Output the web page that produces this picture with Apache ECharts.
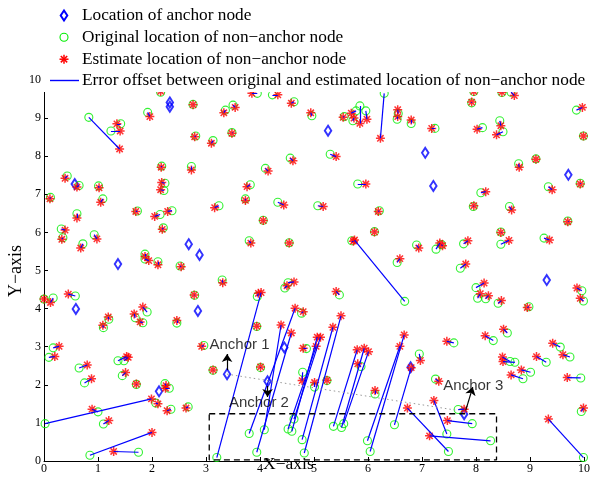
<!DOCTYPE html>
<html>
<head>
<meta charset="utf-8">
<script src="https://cdn.jsdelivr.net/npm/echarts@6/dist/echarts.min.js"></script>
<style>
  html, body { margin: 0; padding: 0; background: #fff; }
  #chart { width: 593px; height: 477px; }
</style>
</head>
<body>
<div id="chart"></div>
<script>
// ---- Data ----
const anchorX = [2.33, 2.33, 5.26, 7.06, 0.57, 7.21, 9.71, 2.68, 2.88, 1.37, 9.31, 0.59, 2.85, 4.45, 3.39, 4.14, 6.79, 2.13, 7.78];
const anchorY = [9.41, 9.30, 8.67, 8.09, 7.27, 7.22, 7.51, 5.69, 5.41, 5.17, 4.75, 3.99, 3.94, 2.98, 2.28, 2.09, 2.46, 1.83, 1.23];

const origX = [
  0.83, 1.42, 1.24, 1.92, 2.16, 2.76, 2.81, 0.43, 0.65, 1.01, 2.18, 2.73, 2.24, 2.22, 0.12, 1.09, 1.73, 2.37, 2.15, 0.61,
  0.32, 2.21, 0.35, 0.93, 0.72, 1.87, 1.87, 2.11, 2.52, 0.00, 0.17, 0.58, 2.79, 1.20, 1.10, 1.69, 1.91, 1.83, 2.46, 0.17,
  0.09, 1.37, 1.48, 1.45, 0.65, 0.75, 1.71, 2.24, 2.32, 0.02, 2.07, 1.00, 2.35, 2.67, 1.10, 0.85, 1.75, 3.30, 4.46, 4.52,
  3.20, 3.95, 2.96, 3.94, 3.13, 4.01, 3.80, 4.77, 4.08, 3.94, 4.79, 5.01, 5.24, 4.86, 5.87, 6.13, 4.52, 4.59, 4.63, 4.78,
  4.82, 5.36, 5.51, 5.55, 5.99, 6.04, 6.49, 5.47, 6.68, 5.70, 7.49, 7.46, 8.27, 7.93, 7.67, 9.99, 9.95, 8.09, 7.95, 8.62,
  9.34, 9.93, 9.70, 8.46, 8.46, 9.26, 6.90, 7.26, 7.36, 7.77, 6.54, 7.71, 8.00, 8.03, 8.18, 8.41, 8.98, 9.96, 9.99, 8.58,
  8.32, 7.59, 6.95, 7.25, 8.63, 8.72, 9.30, 9.56, 9.74, 9.01, 8.87, 9.94, 3.82, 5.81, 3.73, 3.24, 4.33, 5.07, 6.21, 4.06,
  6.12, 3.80, 4.54, 3.95, 4.23, 4.63, 3.36, 3.50, 4.96, 5.56, 5.85, 5.96, 5.78, 5.72, 6.30, 3.48, 3.13, 4.56, 5.30, 4.10,
  6.56, 6.54, 6.80, 7.24, 8.12, 8.44, 8.50, 7.92, 8.65, 9.86, 9.99, 9.11, 8.79, 8.48, 7.96
];
const origY = [
  9.02, 8.85, 8.66, 9.15, 9.68, 9.36, 8.53, 7.48, 7.23, 7.22, 7.74, 7.73, 7.29, 7.10, 6.92, 6.88, 6.56, 6.57, 6.47, 6.49,
  6.09, 6.12, 5.86, 5.94, 5.70, 5.43, 5.30, 5.23, 5.12, 4.25, 4.28, 4.33, 4.35, 3.72, 3.50, 3.76, 3.91, 3.63, 3.62, 2.97,
  2.72, 2.63, 2.63, 2.24, 2.44, 2.05, 2.01, 2.03, 1.91, 0.98, 1.52, 1.29, 1.36, 1.42, 0.97, 0.15, 0.23, 4.75, 4.54, 4.68,
  0.09, 4.32, 3.03, 3.53, 2.38, 2.45, 0.72, 3.88, 0.82, 0.23, 2.33, 1.94, 2.11, 2.95, 2.48, 1.76, 0.84, 0.78, 1.10, 0.56,
  0.21, 0.91, 0.88, 0.98, 0.53, 0.25, 0.95, 4.36, 4.19, 5.78, 0.25, 0.71, 0.53, 0.98, 1.35, 0.09, 1.30, 7.04, 6.68, 6.68,
  7.20, 7.29, 6.30, 6.01, 5.69, 5.85, 5.67, 5.56, 5.68, 5.70, 5.21, 5.06, 4.55, 4.27, 4.26, 4.14, 4.05, 4.47, 4.20, 3.36,
  3.16, 3.10, 2.81, 2.15, 2.61, 2.59, 2.59, 2.99, 2.73, 2.33, 2.16, 2.18, 7.25, 7.27, 6.88, 6.70, 6.79, 6.70, 6.57, 6.32,
  6.02, 5.78, 5.73, 9.65, 9.61, 9.43, 9.21, 9.34, 9.06, 9.04, 9.32, 9.19, 9.19, 8.93, 9.65, 8.62, 8.41, 7.95, 8.05, 7.68,
  9.12, 8.97, 8.86, 8.73, 8.75, 8.93, 8.64, 9.40, 9.68, 9.21, 8.53, 7.93, 7.80, 9.67, 9.70
];
const estX = [
  1.40, 1.35, 1.41, 1.96, 2.16, 2.76, 2.79, 0.39, 0.61, 1.02, 2.17, 2.73, 2.18, 2.16, 0.11, 1.05, 1.70, 2.29, 2.05, 0.61,
  0.39, 2.19, 0.33, 0.98, 0.68, 1.87, 1.94, 2.11, 2.54, 0.00, 0.12, 0.45, 2.78, 1.19, 1.09, 1.67, 1.83, 1.78, 2.46, 0.28,
  0.20, 1.53, 1.56, 1.51, 0.80, 0.88, 1.71, 2.26, 2.25, 1.99, 2.11, 0.89, 2.28, 2.63, 1.20, 2.00, 1.29, 3.31, 4.50, 4.63,
  4.02, 3.97, 2.92, 3.94, 3.13, 4.01, 4.65, 4.80, 4.39, 4.58, 4.78, 5.01, 5.24, 4.80, 5.81, 6.13, 5.04, 5.06, 5.12, 5.35,
  5.50, 5.80, 5.93, 6.01, 6.59, 6.67, 6.80, 5.41, 5.75, 5.73, 6.73, 7.22, 7.14, 7.47, 7.78, 9.34, 9.99, 8.18, 7.96, 8.66,
  9.41, 9.93, 9.70, 8.46, 8.61, 9.36, 6.94, 7.33, 7.38, 7.85, 6.59, 7.81, 8.15, 8.08, 8.23, 8.47, 8.95, 9.87, 9.93, 8.51,
  8.17, 7.46, 6.97, 7.31, 8.49, 8.50, 9.12, 9.42, 9.61, 8.84, 8.65, 9.69, 3.76, 5.96, 3.73, 3.16, 4.44, 5.17, 6.19, 4.06,
  6.12, 3.83, 4.54, 3.85, 4.33, 4.58, 3.33, 3.54, 4.94, 5.54, 5.85, 5.98, 5.69, 5.74, 6.23, 3.48, 3.10, 4.61, 5.41, 4.15,
  6.55, 6.55, 6.80, 7.18, 8.02, 8.46, 8.38, 7.92, 8.71, 9.97, 9.99, 9.11, 8.80, 8.48, 7.96
];
const estY = [
  8.19, 8.85, 8.66, 9.04, 9.70, 9.35, 8.51, 7.42, 7.19, 7.17, 7.71, 7.64, 7.31, 7.12, 6.88, 6.79, 6.55, 6.55, 6.42, 6.38,
  6.06, 6.08, 5.82, 5.83, 5.59, 5.37, 5.26, 5.15, 5.10, 4.25, 4.16, 4.38, 4.36, 3.78, 3.56, 3.86, 4.04, 3.65, 3.69, 3.01,
  2.74, 2.74, 2.72, 2.32, 2.52, 2.16, 2.02, 1.98, 1.91, 1.63, 1.50, 1.36, 1.32, 1.39, 1.06, 0.75, 0.25, 4.68, 4.60, 4.70,
  4.42, 4.40, 3.01, 3.54, 2.39, 2.47, 4.01, 3.92, 3.57, 3.36, 2.11, 2.06, 2.12, 2.96, 2.55, 1.85, 3.01, 3.25, 3.25, 3.51,
  3.81, 2.92, 2.96, 2.87, 3.01, 3.31, 2.45, 4.45, 5.80, 5.77, 1.39, 1.59, 0.66, 1.06, 1.36, 1.10, 1.39, 7.07, 6.70, 6.59,
  7.12, 7.27, 6.28, 6.00, 5.79, 5.80, 5.59, 5.72, 5.65, 5.78, 5.31, 5.17, 4.67, 4.39, 4.34, 4.21, 4.03, 4.54, 4.27, 3.46,
  3.29, 3.14, 2.64, 2.09, 2.73, 2.61, 2.74, 3.09, 2.79, 2.39, 2.26, 2.19, 7.20, 7.27, 6.84, 6.65, 6.72, 6.68, 6.55, 6.31,
  6.01, 5.72, 5.72, 9.65, 9.61, 9.39, 9.14, 9.28, 9.14, 9.02, 8.86, 8.97, 9.13, 9.00, 8.47, 8.60, 8.34, 7.88, 7.99, 7.61,
  9.22, 9.04, 8.95, 8.73, 8.71, 8.80, 8.56, 9.42, 9.59, 9.28, 8.53, 7.92, 7.71, 9.68, 9.70
];

// monitored region (dashed box) and the dotted guide line
const boxX = [3.06, 8.38, 8.38, 3.06, 3.06];
const boxY = [1.24, 1.24, 0.03, 0.03, 1.24];
const guideX = [3.39, 7.65];
const guideY = [2.28, 1.33];

// annotations
const annoText = ['Anchor 1', 'Anchor 2', 'Anchor 3'];
const annoX = [3.62, 3.98, 7.95];
const annoY = [3.05, 1.52, 1.96];
const arrowFromX = [3.39, 4.14, 7.81];
const arrowFromY = [2.39, 1.97, 1.33];
const arrowToX = [3.39, 4.14, 7.94];
const arrowToY = [2.81, 1.68, 1.94];

const legendText = [
  'Location of anchor node',
  'Original location of non\u2212anchor node',
  'Estimate location of non\u2212anchor node',
  'Error offset between original and estimated location of non\u2212anchor node'
];

// ---- Build ----
const SERIF = '"Liberation Serif", "DejaVu Serif", serif';
const SANS = '"Liberation Sans", Arial, sans-serif';
const STAR = 'path://M5,0L5,10M0,5L10,5M1.5,1.5L8.5,8.5M8.5,1.5L1.5,8.5';

const anchors = anchorX.map((x, i) => [x, anchorY[i]]);
const origPts = origX.map((x, i) => [x, origY[i]]);
const estPts = estX.map((x, i) => [x, estY[i]]);
const errLines = origX.map((x, i) => ({ coords: [[x, origY[i]], [estX[i], estY[i]]] }));
const box = boxX.map((x, i) => [x, boxY[i]]);
const guide = guideX.map((x, i) => [x, guideY[i]]);
const arrows = arrowFromX.map((x, i) => ({ coords: [[x, arrowFromY[i]], [arrowToX[i], arrowToY[i]]] }));
const annos = annoX.map((x, i) => ({ value: [x, annoY[i]], name: annoText[i] }));

// legend drawn as graphics (covers top of plot like the original opaque legend box)
const LX = 64, TX = 82, LY = [15.5, 37.3, 59.2, 80.5];
const legendEls = [
  { type: 'rect', shape: { x: 43, y: 0, width: 550, height: 92 }, style: { fill: '#fff' }, z: 100, silent: true },
  { type: 'polygon', shape: { points: [[LX, LY[0] - 5], [LX + 3.3, LY[0]], [LX, LY[0] + 5], [LX - 3.3, LY[0]]] },
    style: { fill: 'none', stroke: '#0000ff', lineWidth: 2 }, z: 101, silent: true },
  { type: 'circle', shape: { cx: LX, cy: LY[1], r: 4 }, style: { fill: 'none', stroke: '#00ee00', lineWidth: 1.1 }, z: 101, silent: true },
  { type: 'line', shape: { x1: LX - 4.5, y1: LY[2], x2: LX + 4.5, y2: LY[2] }, style: { stroke: '#ff0000', lineWidth: 1.5 }, z: 101, silent: true },
  { type: 'line', shape: { x1: LX, y1: LY[2] - 4.5, x2: LX, y2: LY[2] + 4.5 }, style: { stroke: '#ff0000', lineWidth: 1.5 }, z: 101, silent: true },
  { type: 'line', shape: { x1: LX - 3.2, y1: LY[2] - 3.2, x2: LX + 3.2, y2: LY[2] + 3.2 }, style: { stroke: '#ff0000', lineWidth: 1.5 }, z: 101, silent: true },
  { type: 'line', shape: { x1: LX + 3.2, y1: LY[2] - 3.2, x2: LX - 3.2, y2: LY[2] + 3.2 }, style: { stroke: '#ff0000', lineWidth: 1.5 }, z: 101, silent: true },
  { type: 'line', shape: { x1: 50, y1: LY[3], x2: 79, y2: LY[3] }, style: { stroke: '#0000ff', lineWidth: 1.4 }, z: 101, silent: true }
];
legendText.forEach((t, i) => {
  legendEls.push({ type: 'text', x: TX, y: LY[i], z: 102, silent: true,
    style: { text: t, fill: '#000', fontSize: 17.3, fontFamily: SERIF, align: 'left', verticalAlign: 'middle' } });
});
// axis titles
legendEls.push({ type: 'text', x: 263, y: 464.5, z: 50, silent: true,
  style: { text: 'X\u2212axis', fill: '#000', fontSize: 17.5, fontFamily: SERIF, align: 'left', verticalAlign: 'middle' } });
legendEls.push({ type: 'text', x: 16, y: 271, rotation: Math.PI / 2, z: 50, silent: true,
  style: { text: 'Y\u2212axis', fill: '#000', fontSize: 18, fontFamily: SERIF, align: 'center', verticalAlign: 'middle' } });

const axisCommon = {
  type: 'value', min: 0, max: 10, interval: 1,
  axisLine: { show: true, onZero: false, lineStyle: { color: '#000', width: 1 } },
  axisTick: { show: true, inside: true, length: 4, lineStyle: { color: '#000', width: 1 } },
  splitLine: { show: false },
  axisLabel: { color: '#000', fontSize: 12, fontFamily: SERIF }
};

const chart = echarts.init(document.getElementById('chart'), null, { renderer: 'canvas' });
chart.setOption({
  animation: false,
  backgroundColor: '#fff',
  grid: { left: 44, right: 5, top: 80, bottom: 16, containLabel: false },
  xAxis: Object.assign({}, axisCommon, { axisLabel: Object.assign({}, axisCommon.axisLabel, { margin: 2 }) }),
  yAxis: Object.assign({}, axisCommon, { axisLabel: Object.assign({}, axisCommon.axisLabel, { margin: 3 }) }),
  graphic: { elements: legendEls },
  series: [
    {
      name: 'Location of anchor node', type: 'scatter', data: anchors, symbol: 'diamond', symbolSize: [6.5, 10],
      itemStyle: { color: 'none', borderColor: '#0000ff', borderWidth: 2 }, z: 3, clip: false
    },
    {
      name: 'Original location of non-anchor node', type: 'scatter', data: origPts, symbol: 'circle', symbolSize: 8,
      itemStyle: { color: 'none', borderColor: '#00ee00', borderWidth: 1.1 }, z: 4, clip: false
    },
    {
      name: 'Estimate location of non-anchor node', type: 'scatter', data: estPts, symbol: STAR, symbolSize: 9,
      itemStyle: { color: 'none', borderColor: '#ff0000', borderWidth: 1.5 }, z: 5, clip: false
    },
    {
      name: 'Error offset', type: 'lines', coordinateSystem: 'cartesian2d', data: errLines,
      lineStyle: { color: '#0000ff', width: 1.2, opacity: 1 }, symbol: 'none', z: 6, silent: true
    },
    {
      name: 'box', type: 'line', data: box, symbol: 'none', z: 7, silent: true,
      lineStyle: { color: '#000', width: 1.3, type: [6, 4] }
    },
    {
      name: 'guide', type: 'line', data: guide, symbol: 'none', z: 7, silent: true,
      lineStyle: { color: '#999', width: 1, type: [1.5, 3] }
    },
    {
      name: 'arrows', type: 'lines', coordinateSystem: 'cartesian2d', data: arrows,
      symbol: ['none', 'arrow'], symbolSize: 8, z: 8, silent: true,
      lineStyle: { color: '#000', width: 1.2, opacity: 1 }
    },
    {
      name: 'annotations', type: 'scatter', data: annos, symbolSize: 0, z: 9, silent: true,
      label: { show: true, position: 'inside', formatter: p => p.name, color: '#000', fontSize: 15, fontFamily: SANS }
    }
  ]
});
</script>
</body>
</html>
